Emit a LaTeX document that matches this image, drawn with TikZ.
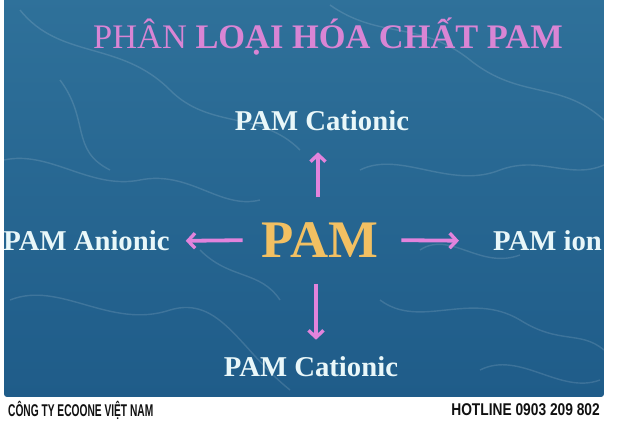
\documentclass[tikz,border=0pt]{standalone}
\usepackage{fontspec}
\setmainfont{Liberation Serif}
\newfontfamily\footfont{Liberation Sans}
\usetikzlibrary{arrows.meta}
\definecolor{seatop}{HTML}{2F719A}
\definecolor{seabot}{HTML}{1F5C89}
\definecolor{titlepink}{HTML}{D985D4}
\definecolor{arrowpink}{HTML}{E283DC}
\definecolor{pamgold}{HTML}{F2C062}
\definecolor{labelcol}{HTML}{E9F7F9}
\definecolor{footcol}{HTML}{111111}
\tikzset{
  lbl/.style={font=\fontsize{28.7}{31}\selectfont\bfseries, text=labelcol, inner sep=0pt},
  arr/.style={draw=arrowpink, line width=3.8pt, -{Straight Barb[length=7pt,width=15pt,line width=3.4pt]}},
  foot/.style={inner sep=0pt, text=footcol},
  caustic/.style={draw=white, opacity=0.13, line width=1.4pt},
}
\begin{document}
\begin{tikzpicture}[x=1pt,y=-1pt]
\useasboundingbox (0,0) rectangle (625,422);
\fill[white] (0,0) rectangle (625,422);
\shade[top color=seatop, bottom color=seabot, rounded corners=3pt] (4,-5) rectangle (604,397);
% water texture
\begin{scope}
\clip (4,0) rectangle (604,397);
\draw[caustic] (20,10) .. controls (60,60) and (120,40) .. (170,90) .. controls (210,130) and (260,110) .. (300,150);
\draw[caustic] (330,5) .. controls (380,40) and (420,20) .. (470,60) .. controls (520,100) and (560,80) .. (604,120);
\draw[caustic] (4,160) .. controls (50,150) and (90,190) .. (140,180) .. controls (190,170) and (220,210) .. (260,200);
\draw[caustic] (360,170) .. controls (400,150) and (450,190) .. (500,170) .. controls (540,155) and (570,180) .. (604,165);
\draw[caustic] (10,300) .. controls (60,280) and (110,330) .. (170,310) .. controls (220,295) and (240,350) .. (290,390);
\draw[caustic] (380,300) .. controls (420,330) and (470,290) .. (520,320) .. controls (560,345) and (580,330) .. (604,350);
\draw[caustic] (200,250) .. controls (230,280) and (260,270) .. (280,300);
\draw[caustic] (420,250) .. controls (450,230) and (480,270) .. (520,255);
\draw[caustic] (60,80) .. controls (90,120) and (70,150) .. (110,170);
\draw[caustic] (480,370) .. controls (520,350) and (560,395) .. (600,380);
\end{scope}
% title
\node[inner sep=0pt, text=titlepink, font=\fontsize{34.4}{37}\selectfont] (title) at (328,37)
  {PHÂN \textbf{LOẠI HÓA CHẤT PAM}};
% labels
\node[lbl] (top) at (322,121) {PAM Cationic};
\node[lbl] (left) at (86.5,241) {PAM Anionic};
\node[lbl] (right) at (547.5,241) {PAM ion};
\node[lbl] (bottom) at (311,367) {PAM Cationic};
\node[inner sep=0pt, text=pamgold, font=\fontsize{52.8}{56}\selectfont\bfseries] (pam) at (320,240) {PAM};
% arrows
\draw[arr, shorten <=25pt, shorten >=21pt] ([xshift=-2pt]pam.north) -- ([xshift=-4pt]top.south);
\draw[arr, shorten <=26pt, shorten >=17pt] ([xshift=-4pt]pam.south) -- ([xshift=5pt]bottom.north);
\draw[arr, shorten <=19pt, shorten >=16pt] (pam.west) -- (left.east);
\draw[arr, shorten <=23pt, shorten >=34pt] (pam.east) -- (right.west);
% footer
\node[foot, anchor=west] (company) at (8,410) {\scalebox{0.60}[1]{\footfont\bfseries\fontsize{17}{18}\selectfont CÔNG TY ECOONE VIỆT NAM}};
\node[foot, anchor=east] (hotline) at (600,410) {\scalebox{0.81}[1]{\footfont\bfseries\fontsize{17}{18}\selectfont HOTLINE 0903 209 802}};
\end{tikzpicture}
\end{document}
